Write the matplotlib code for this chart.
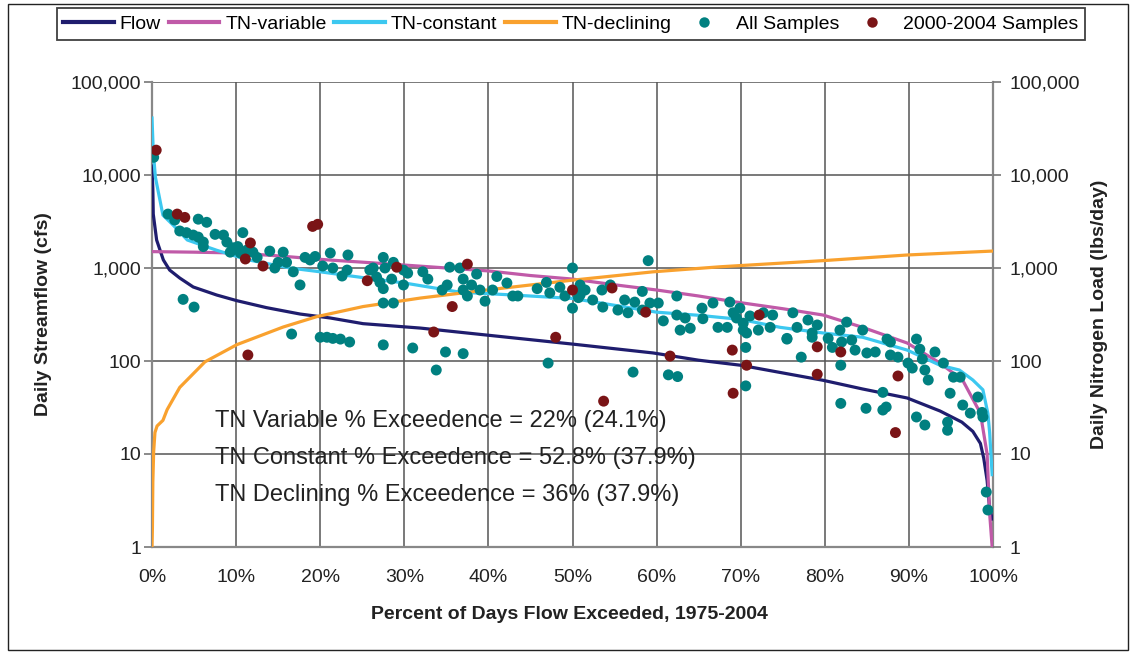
import numpy as np
import matplotlib
matplotlib.use('Agg')
import matplotlib.pyplot as plt
from matplotlib.patches import Rectangle
from matplotlib.lines import Line2D

plt.rcParams['font.family'] = ['Liberation Sans', 'DejaVu Sans']

# ---- data (percent of days exceeded, value) ----
flow_pct = [0, 0.1, 0.15, 0.55, 1.35, 2.1, 3.3, 4.9, 7.7, 10.1, 13.6, 17.6, 21.2, 25.1,
            31.9, 39.8, 50, 59.6, 65, 70, 79.8, 84.5, 89.8, 93.7, 96.3, 97.6, 98.5,
            98.9, 99.3, 99.6, 99.9]
flow_cfs = [12500, 7000, 3800, 2000, 1220, 950, 780, 625, 512, 445, 375, 320, 290, 252,
            226, 190, 152, 122, 102, 90, 62, 50, 40, 29, 22, 17.5, 13,
            9, 5.2, 2.6, 2]

tnvar_pct = [0, 5, 10, 15, 21, 26, 33, 40, 45, 50, 55, 60, 65, 69.5, 75, 79.8, 84.5,
             89.8, 93.7, 96.4, 98.5, 99.3, 99.6, 99.9]
tnvar_load = [1500, 1480, 1450, 1350, 1220, 1140, 1030, 930, 830, 760, 660, 580, 500, 430,
              365, 312, 230, 156, 95, 62, 27.5, 10, 2.3, 1]

tncon_pct = [0, 0.15, 0.4, 1.3, 2.5, 4.2, 7.7, 11.3, 16.4, 20, 25, 30, 36.6, 43, 50, 54.8,
             60, 65, 70, 74.7, 79.8, 84.5, 89.8, 93.7, 96, 97.6, 98.8, 99.4, 99.6, 99.9]
tncon_load = [41000, 18000, 9500, 3700, 2900, 2000, 1550, 1230, 1000, 910, 790, 690, 550,
              512, 470, 400, 335, 310, 280, 230, 200, 180, 131, 90, 80, 62.5, 49, 27, 17, 6]

tndec_pct = [0, 0.05, 0.1, 0.2, 0.35, 0.6, 1.3, 1.8, 3.3, 6.3, 10.1, 15.6, 19.6, 25.1,
             31.9, 39.8, 50, 59.6, 67.5, 79.8, 89.8, 99.9]
tndec_load = [1, 1.6, 5, 10.7, 17, 20, 23, 30, 52, 98, 150, 232, 300, 385,
              475, 580, 740, 910, 1030, 1200, 1380, 1520]

all_pct = [0.2, 1.9, 2.7, 3.3, 4.1, 4.9, 5.5, 6.5, 5.5, 6.1, 6.1, 7.5, 8.5, 8.9, 9.3, 9.6,
           10.2, 10.8, 10.5, 11.3, 12.0, 12.5, 14.0, 14.6, 15.0, 15.6, 16.0, 16.8, 17.6,
           18.2, 18.8, 19.4, 20.3, 21.2, 21.5, 22.6, 23.2, 23.3, 3.7, 5.0, 16.6, 20.0, 20.8,
           21.5, 22.4, 23.5, 25.9,
           26.3, 26.7, 27.1, 27.5, 27.5, 27.7, 28.5, 28.7, 29.9, 30.4, 29.9, 27.5, 28.7,
           32.2, 32.8, 34.5, 35.1, 35.4, 36.6, 37.0, 37.0, 37.5, 38.0, 38.6, 39.0, 39.6,
           40.5, 41.0, 42.2, 42.9, 43.5, 45.8, 46.9, 47.3, 48.5, 49.1, 50.0, 50.0, 50.7,
           27.5, 31.0, 34.9, 37.0, 33.8, 47.1,
           50.9, 51.5, 50.9, 52.4, 53.5, 53.6, 54.5, 55.4, 56.2, 56.6, 57.4, 58.3, 58.3,
           59.0, 59.2, 60.2, 60.8, 62.4, 62.4, 62.8, 63.4, 64.0, 65.4, 65.5, 66.7, 67.3,
           68.4, 68.7, 69.1, 69.5, 69.9, 70.3, 70.3, 70.7, 71.1, 72.1, 72.7, 73.5, 73.8,
           75.5, 70.6, 70.6, 57.2, 61.4, 62.5,
           76.2, 76.7, 78.0, 78.5, 78.5, 79.1, 75.5, 77.2, 80.4, 80.9, 81.8, 82.0, 82.6,
           83.2, 81.9, 83.6, 84.5, 85.0, 86.0, 87.4, 87.8, 87.8, 88.7, 86.9, 84.9, 81.9,
           86.9, 87.3, 89.9, 90.4, 90.9, 91.3, 91.6, 91.9, 92.3, 93.1, 94.1, 90.9, 91.9,
           94.6, 94.6, 94.9, 95.3, 96.1, 96.4, 97.3, 98.2, 98.7, 98.8, 99.2, 99.4]
all_load = [15500, 3800, 3280, 2500, 2400, 2260, 3350, 3100, 2150, 1900, 1700, 2300, 2260,
            1900, 1480, 1650, 1700, 2400, 1450, 1560, 1480, 1300, 1520, 1000, 1150, 1480,
            1150, 910, 657, 1300, 1220, 1330, 1050, 1450, 1000, 820, 950, 1380, 460, 380,
            195, 180, 180, 175, 172, 160, 950,
            1000, 800, 700, 600, 1300, 1000, 760, 1150, 950, 880, 657, 420, 420,
            910, 760, 580, 657, 1020, 1000, 760, 580, 500, 657, 860, 580, 440,
            580, 810, 690, 500, 500, 600, 700, 540, 620, 500, 1000, 370, 480,
            149, 138, 125, 120, 80, 95,
            657, 580, 512, 453, 580, 380, 657, 353, 453, 330, 430, 560, 353,
            1200, 420, 420, 270, 500, 312, 215, 290, 225, 370, 285, 420, 230,
            230, 430, 330, 290, 370, 255, 215, 200, 305, 215, 330, 230, 312,
            175, 140, 54, 76, 71, 68,
            330, 230, 276, 200, 180, 244, 172, 110, 175, 140, 215, 160, 262,
            168, 90, 131, 215, 122, 125, 172, 160, 116, 110, 46, 31, 35,
            29.7, 32, 95, 84, 172, 134, 105, 80, 62.5, 125, 95, 25, 20.5,
            22, 18, 45, 67, 67, 33.6, 27.5, 41, 28, 25, 3.9, 2.5]

recent_pct = [0.5, 3.0, 3.9, 11.7, 11.1, 13.2, 19.1, 19.7, 11.4, 25.6, 29.1, 37.5, 35.7,
              33.5, 48.0, 50.0, 54.7, 58.7, 61.6, 69.0, 70.7, 69.1, 53.7, 72.2, 79.1, 81.9,
              79.1, 88.7, 88.4]
recent_load = [18500, 3800, 3500, 1860, 1250, 1050, 2800, 2950, 116, 730, 1020, 1100, 385,
               205, 180, 580, 610, 335, 113, 131, 90, 45, 37, 312, 142, 125, 72, 69, 17]

x_ticks = list(range(0, 101, 10))
x_tick_labels = ['%d%%' % t for t in x_ticks]
y_ticks = [1, 10, 100, 1000, 10000, 100000]
y_tick_labels = ['1', '10', '100', '1,000', '10,000', '100,000']

notes = ['TN Variable % Exceedence = 22% (24.1%)',
         'TN Constant % Exceedence = 52.8% (37.9%)',
         'TN Declining % Exceedence = 36% (37.9%)']

# ---- colours ----
c_flow = '#1f1d6e'
c_var = '#c05aa8'
c_con = '#3cc8f0'
c_dec = '#f9a12e'
c_all = '#008080'
c_recent = '#7a1416'

fig = plt.figure(figsize=(11.35, 6.55), dpi=100)
ax = fig.add_axes([152 / 1135, 1 - 547 / 655, 841 / 1135, 465 / 655])

ax.plot(flow_pct, flow_cfs, color=c_flow, lw=2.3, zorder=3)
ax.plot(tnvar_pct, tnvar_load, color=c_var, lw=2.3, zorder=3)
ax.plot(tncon_pct, tncon_load, color=c_con, lw=2.3, zorder=3)
ax.plot(tndec_pct, tndec_load, color=c_dec, lw=2.3, zorder=3)
ax.scatter(all_pct, all_load, s=62, color=c_all, edgecolors='none', zorder=4)
ax.scatter(recent_pct, recent_load, s=62, color=c_recent, edgecolors='none', zorder=5)

ax.set_yscale('log')
ax.set_xlim(0, 100)
ax.set_ylim(1, 100000)
ax.set_xticks(x_ticks)
ax.set_xticklabels(x_tick_labels)
ax.set_yticks(y_ticks)
ax.set_yticklabels(y_tick_labels)
ax.yaxis.set_minor_locator(matplotlib.ticker.NullLocator())
ax.tick_params(axis='x', length=0, pad=16, labelsize=14, colors='#222222')
ax.tick_params(axis='y', length=6, width=1.2, color='#777777', pad=2, labelsize=14,
               labelcolor='#222222')
ax.grid(True, color='#555555', lw=1.1)
ax.set_axisbelow(True)
for side in ['left', 'bottom', 'right']:
    ax.spines[side].set_color('#888888')
    ax.spines[side].set_linewidth(1.6)
ax.spines['top'].set_visible(False)

ax2 = ax.twinx()
ax2.set_yscale('log')
ax2.set_ylim(1, 100000)
ax2.set_yticks(y_ticks)
ax2.set_yticklabels(y_tick_labels)
ax2.yaxis.set_minor_locator(matplotlib.ticker.NullLocator())
ax2.tick_params(axis='y', length=6, width=1.2, color='#777777', pad=6, labelsize=14,
                labelcolor='#222222')
for s in ax2.spines.values():
    s.set_visible(False)

ax.set_ylabel('Daily Streamflow (cfs)', fontsize=14, fontweight='bold', color='#222222')
ax.yaxis.set_label_coords(-0.119, 0.5)
ax2.set_ylabel('Daily Nitrogen Load (lbs/day)', fontsize=14, fontweight='bold',
               color='#222222')
ax2.yaxis.set_label_coords(1.117, 0.5)
ax.set_xlabel('Percent of Days Flow Exceeded, 1975-2004', fontsize=14, fontweight='bold',
              color='#222222')
ax.xaxis.set_label_coords(0.496, -0.126)
ax.xaxis.label.set_va('top')

for i, txt in enumerate(notes):
    ax.text(0.075, 0.27 - i * 0.079, txt, transform=ax.transAxes, fontsize=17,
            va='center', ha='left', color='#222222', zorder=6)

handles = [
    Line2D([], [], color=c_flow, lw=3),
    Line2D([], [], color=c_var, lw=3),
    Line2D([], [], color=c_con, lw=3),
    Line2D([], [], color=c_dec, lw=3),
    Line2D([], [], color=c_all, marker='o', ls='none', ms=7.5, mec='none'),
    Line2D([], [], color=c_recent, marker='o', ls='none', ms=7.5, mec='none'),
]
labels = ['Flow', 'TN-variable', 'TN-constant', 'TN-declining', 'All Samples',
          '2000-2004 Samples']
leg = fig.legend(handles, labels, loc='upper center', bbox_to_anchor=(0.503, 1.002),
                 ncol=6, fontsize=14, frameon=True, fancybox=False, edgecolor='#111111',
                 handlelength=2.6, handletextpad=0.3, columnspacing=0.4, borderpad=0.35)
leg.get_frame().set_linewidth(1.3)

fig.add_artist(Rectangle((8 / 1135, 5 / 655), 1120 / 1135, 646 / 655,
                         transform=fig.transFigure, fill=False, lw=1.0, ec='#222222'))

fig.savefig('out.png', dpi=100)
